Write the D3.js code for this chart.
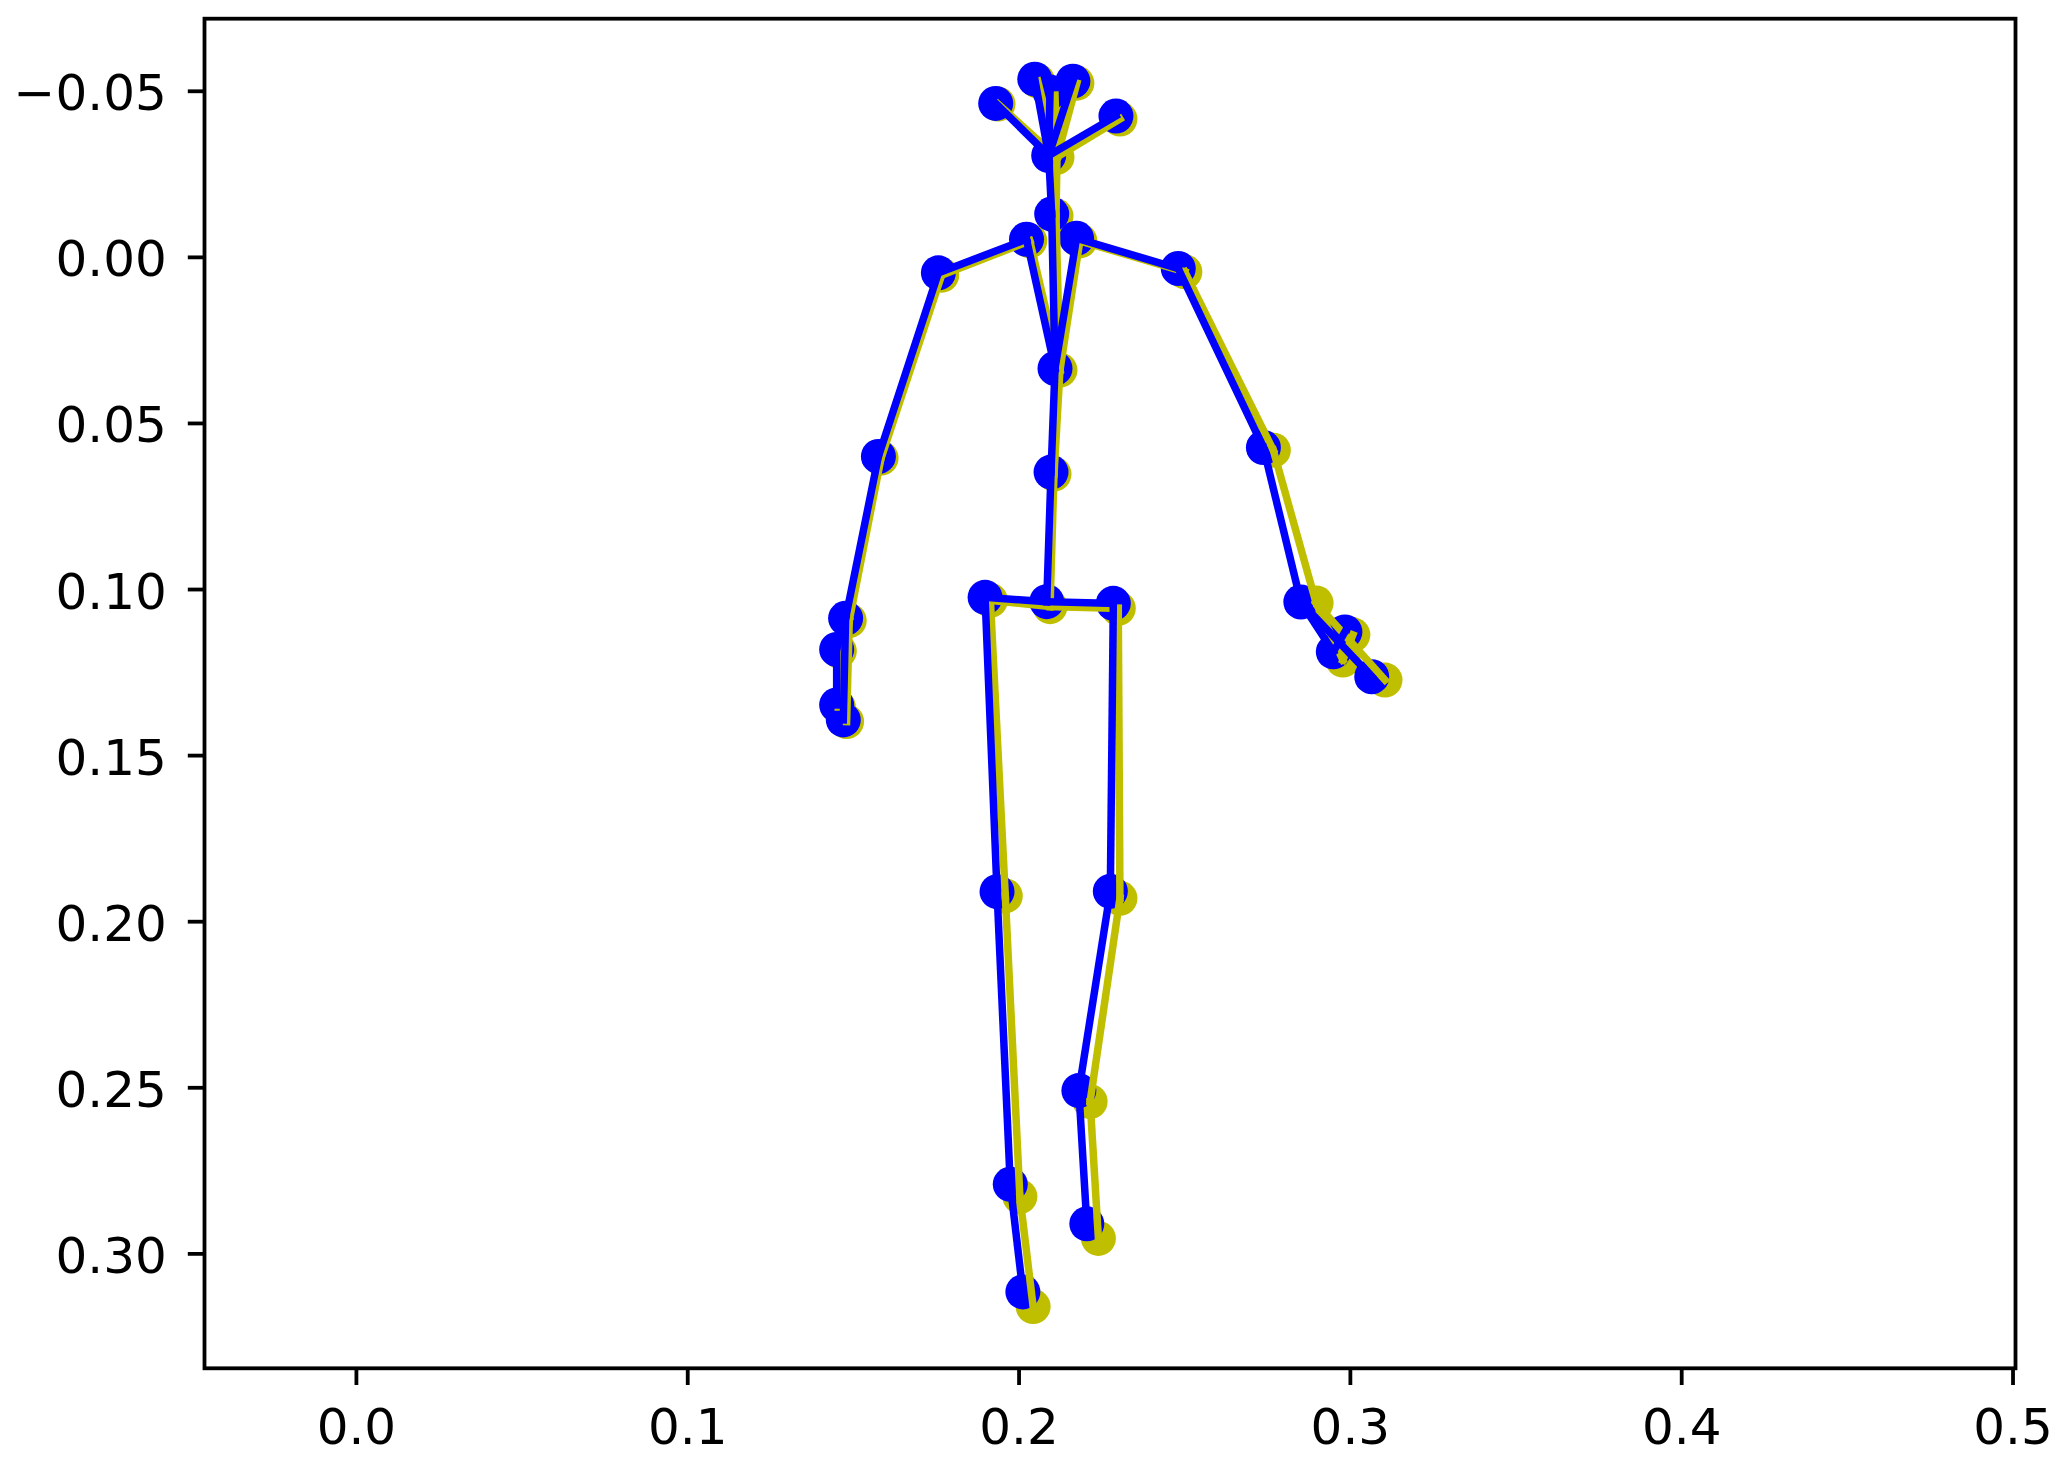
<!DOCTYPE html>
<html>
<head>
<meta charset="utf-8">
<script src="https://cdn.jsdelivr.net/npm/d3@7"></script>
<style>
  body { margin: 0; background: #fff; }
  text { font-family: "DejaVu Sans", sans-serif; }
</style>
</head>
<body>
<div id="chart"></div>
<script>
// Joint positions [x, y] (32 joints), yellow = reference pose, blue = second pose
var yellowJoints = [
  [0.2095, 0.1053], [0.2107, 0.0654], [0.2125, 0.0341], [0.2113, -0.0123],
  [0.2034, -0.0048], [0.1768, 0.0055], [0.1585, 0.0606], [0.1489, 0.1095],
  [0.1459, 0.1187], [0.1456, 0.1355], [0.1481, 0.1399], [0.2185, -0.0048],
  [0.2502, 0.0045], [0.2769, 0.0582], [0.2898, 0.1042], [0.2979, 0.1214],
  [0.3009, 0.1138], [0.3106, 0.1274], [0.1915, 0.1034], [0.1960, 0.1924],
  [0.2004, 0.2829], [0.2044, 0.3160], [0.2301, 0.1058], [0.2306, 0.1931],
  [0.2216, 0.2543], [0.2241, 0.2955], [0.2116, -0.0300], [0.2110, -0.0487],
  [0.2058, -0.0529], [0.1938, -0.0460], [0.2176, -0.0523], [0.2306, -0.0415]
];
var blueJoints = [
  [0.2085, 0.1038], [0.2098, 0.0648], [0.2110, 0.0336], [0.2100, -0.0129],
  [0.2024, -0.0053], [0.1758, 0.0048], [0.1577, 0.0601], [0.1478, 0.1088],
  [0.1451, 0.1182], [0.1451, 0.1349], [0.1471, 0.1394], [0.2175, -0.0056],
  [0.2482, 0.0035], [0.2739, 0.0574], [0.2852, 0.1039], [0.2950, 0.1189],
  [0.2985, 0.1129], [0.3066, 0.1264], [0.1899, 0.1025], [0.1935, 0.1911],
  [0.1975, 0.2792], [0.2013, 0.3116], [0.2286, 0.1043], [0.2277, 0.1910],
  [0.2182, 0.2510], [0.2206, 0.2911], [0.2091, -0.0305], [0.2095, -0.0496],
  [0.2049, -0.0535], [0.1931, -0.0462], [0.2164, -0.0529], [0.2294, -0.0424]
];
// Bones as pairs of joint indices
var bones = [
  [0, 1], [1, 2], [2, 3], [2, 4], [4, 5], [5, 6], [6, 7], [7, 8], [8, 9], [7, 10],
  [2, 11], [11, 12], [12, 13], [13, 14], [14, 15], [15, 16], [14, 17],
  [0, 18], [18, 19], [19, 20], [20, 21], [0, 22], [22, 23], [23, 24], [24, 25],
  [3, 26], [26, 27], [26, 28], [26, 29], [26, 30], [26, 31]
];
var xTicks = [0.0, 0.1, 0.2, 0.3, 0.4, 0.5];
var yTicks = [-0.05, 0.00, 0.05, 0.10, 0.15, 0.20, 0.25, 0.30];
var xLimits = [-0.0457, 0.5009];
var yLimits = [-0.0717, 0.3346];

var svgWidth = 2068;
var svgHeight = 1460;
var margin = { top: 18.7, right: 52.5, bottom: 91.7, left: 204.5 };
var width = svgWidth - margin.left - margin.right;
var height = svgHeight - margin.top - margin.bottom;

var svg = d3.select("#chart")
    .append("svg")
    .attr("width", svgWidth)
    .attr("height", svgHeight);

svg.append("rect").attr("width", svgWidth).attr("height", svgHeight).attr("fill", "#fff");

var g = svg.append("g")
    .attr("transform", "translate(" + margin.left + "," + margin.top + ")");

var x = d3.scaleLinear().domain(xLimits).range([0, width]);
// y axis is inverted: small values on top
var y = d3.scaleLinear().domain(yLimits).range([0, height]);

// Axes
var xAxis = g.append("g")
    .attr("transform", "translate(0," + height + ")")
    .call(d3.axisBottom(x).tickValues(xTicks).tickFormat(d3.format(".1f"))
        .tickSizeInner(16.7).tickSizeOuter(0).tickPadding(24));
var yAxis = g.append("g")
    .call(d3.axisLeft(y).tickValues(yTicks).tickFormat(d3.format(".2f"))
        .tickSizeInner(16.7).tickSizeOuter(0).tickPadding(21));

[xAxis, yAxis].forEach(function (a) {
    a.select(".domain").remove();
    a.selectAll(".tick line").attr("stroke", "#000").attr("stroke-width", 3.8);
    a.selectAll(".tick text")
        .attr("fill", "#000")
        .style("font-family", "'DejaVu Sans', sans-serif")
        .style("font-size", "50px");
});
yAxis.selectAll(".tick text").attr("dy", "0.38em");

// Markers (drawn under the lines)
function drawJoints(pts, color) {
    g.append("g").selectAll("circle")
        .data(pts)
        .enter().append("circle")
        .attr("cx", function (d) { return x(d[0]); })
        .attr("cy", function (d) { return y(d[1]); })
        .attr("r", 17.5)
        .attr("fill", color);
}
drawJoints(yellowJoints, "#bfbf00");
drawJoints(blueJoints, "#0000ff");

// Bones
function drawBones(pts, color) {
    g.append("g").selectAll("line")
        .data(bones)
        .enter().append("line")
        .attr("x1", function (b) { return x(pts[b[0]][0]); })
        .attr("y1", function (b) { return y(pts[b[0]][1]); })
        .attr("x2", function (b) { return x(pts[b[1]][0]); })
        .attr("y2", function (b) { return y(pts[b[1]][1]); })
        .attr("stroke", color)
        .attr("stroke-width", 7.5)
        .attr("stroke-linecap", "square");
}
drawBones(yellowJoints, "#bfbf00");
drawBones(blueJoints, "#0000ff");

// Frame
g.append("rect")
    .attr("width", width)
    .attr("height", height)
    .attr("fill", "none")
    .attr("stroke", "#000")
    .attr("stroke-width", 3.8);
</script>
</body>
</html>
